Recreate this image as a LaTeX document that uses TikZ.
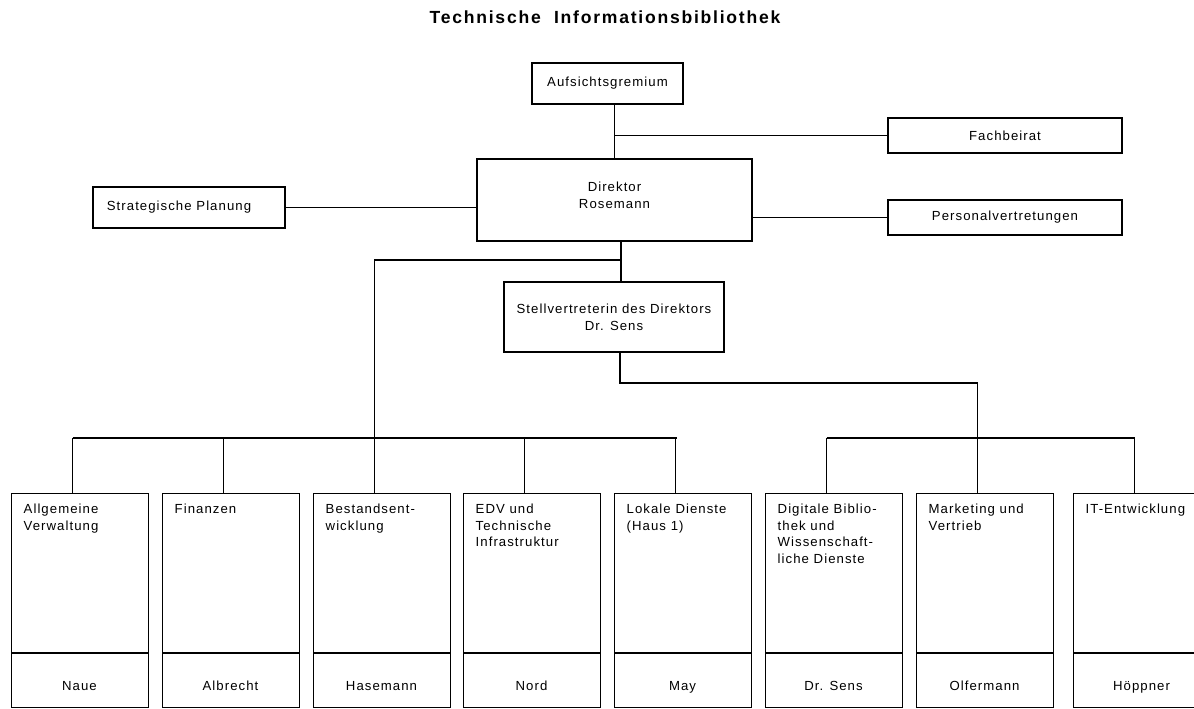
\documentclass[tikz,border=0pt]{standalone}
\usepackage{fontspec}
\setmainfont{Liberation Sans}
\newfontfamily\boxfont[LetterSpace=8]{Liberation Sans}
\newfontfamily\titlefont[LetterSpace=10]{Liberation Sans}

\begin{document}
\begin{tikzpicture}[x=0.02cm, y=-0.02cm, line width=0.8pt,
        every node/.style={font=\boxfont\fontsize{7.5}{9.6}\selectfont},
        kasten/.style={draw, fill=white, inner sep=0pt, align=center},
        abteilung/.style={kasten, minimum width=2.74cm, minimum height=4.28cm}]
        \useasboundingbox (0,0) rectangle (1194,709);
        \clip (0,0) rectangle (1194,709);

        % Title
        \node[font=\titlefont\bfseries\fontsize{10}{12}\selectfont] (titel) at (605,17) {Technische\ \ Informationsbibliothek};

        % Leitung
        \node[kasten, minimum width=3.02cm, minimum height=0.82cm] (aufsicht) at (607.5,83.5) {Aufsichtsgremium};
        \node[kasten, minimum width=4.68cm, minimum height=0.70cm] (fachbeirat) at (1005,135.5) {Fachbeirat};
        \node[kasten, minimum width=5.5cm, minimum height=1.64cm, text depth=5.5pt] (direktor) at (614.5,200) {Direktor\\Rosemann};
        \node[kasten, minimum width=3.84cm, minimum height=0.82cm] (strategie) at (189,207.5) {Strategische Planung\hspace{0.4cm}};
        \node[kasten, minimum width=4.68cm, minimum height=0.70cm] (personal) at (1005,217.5) {Personalvertretungen};
        \node[kasten, minimum width=4.4cm, minimum height=1.4cm] (stellv) at (614,317) {Stellvertreterin des Direktors\\Dr. Sens};

        \draw (direktor.north) -- (direktor.north |- aufsicht.south);
        \draw (fachbeirat.west) -- (fachbeirat.west -| direktor.north);
        \draw (strategie.east) -- (strategie.east -| direktor.west);
        \draw (personal.west) -- (personal.west -| direktor.east);

        % Abteilungen
        \foreach \x/\nm/\ttl/\pers in {11/verwaltung/{Allgemeine\\Verwaltung}/Naue,
                162/finanzen/{Finanzen}/Albrecht,
                313/bestand/{Bestandsent-\\wicklung}/Hasemann,
                463/edv/{EDV und\\Technische\\Infrastruktur}/Nord,
                614/lokal/{Lokale Dienste\\(Haus 1)}/May,
                765/digital/{Digitale Biblio-\\thek und\\Wissenschaft-\\liche Dienste}/Dr. Sens,
                916/marketing/{Marketing und\\Vertrieb}/Olfermann,
                1073/it/{IT-Entwicklung}/Höppner} {
            \node[abteilung, anchor=north west] (\nm) at (\x,493) {};
            \draw (\x,653) -- ++(137,0);
            \node[anchor=north west, inner sep=0pt, align=left] (\nm-titel) at (\x+12,503) {\ttl};
            \node[anchor=base] (\nm-leiter) at (\x+68.5,690) {\pers};
            \draw ([xshift=-0.15cm]\nm.north) -- ++(0,-55);
        }

        % Verbindungen
        \coordinate (dstem) at (621,260);
        \coordinate (sstem) at (620,383);
        \draw (dstem |- direktor.south) -- (dstem |- stellv.north);
        \draw (dstem) -- ([xshift=-0.15cm]bestand.north |- dstem) -- ([xshift=-0.15cm]bestand.north);
        \draw ([xshift=-0.15cm]verwaltung.north |- 0,438) -- ([xshift=-0.13cm]lokal.north |- 0,438);
        \draw (sstem |- stellv.south) -- (sstem) -- ([xshift=-0.15cm]marketing.north |- sstem) -- ([xshift=-0.15cm]marketing.north);
        \draw ([xshift=-0.15cm]digital.north |- 0,438) -- ([xshift=-0.15cm]it.north |- 0,438);
\end{tikzpicture}
\end{document}
